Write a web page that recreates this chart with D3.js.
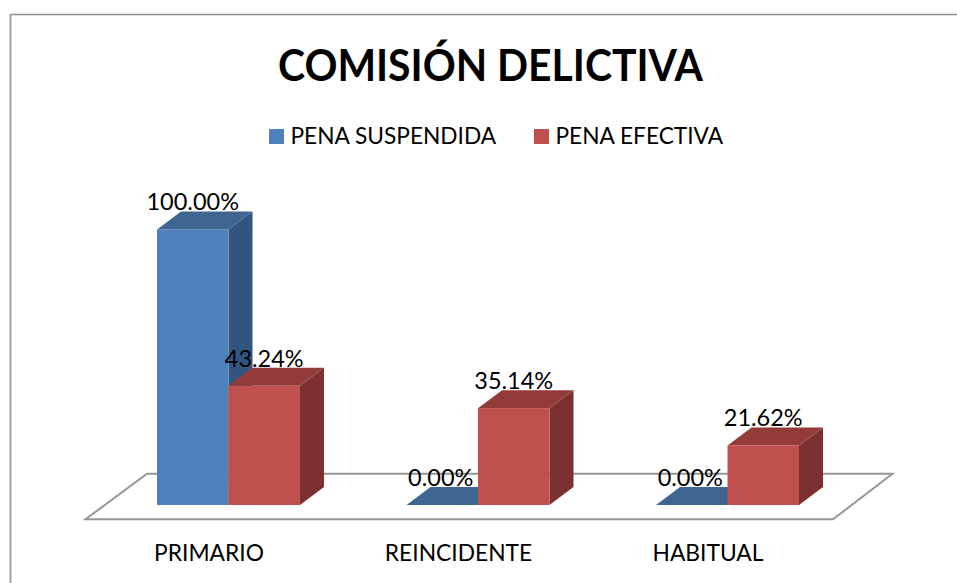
<!DOCTYPE html>
<html><head><meta charset="utf-8">
<script src="https://cdn.jsdelivr.net/npm/d3@7/dist/d3.min.js"></script>
<style>html,body{margin:0;padding:0;background:#fff}svg{display:block}text{font-family:Lato,"Open Sans",sans-serif;fill:#000}</style>
</head><body><svg id="c" width="957" height="583"></svg>
<script>
const title = "COMISIÓN DELICTIVA";
const categories = ["PRIMARIO","REINCIDENTE","HABITUAL"];
const seriesNames = ["PENA SUSPENDIDA","PENA EFECTIVA"];
const penaSuspendida = [100, 0, 0];
const penaEfectiva = [43.24, 35.14, 21.62];
const series = [penaSuspendida, penaEfectiva];
const front = ["#4f81bd","#c0504d"], top_ = ["#3f6591","#933b39"], side = ["#325580","#7c302f"];
const svg = d3.select("#c");
const y = d3.scaleLinear().domain([0,100]).range([505,229.4]);
const x0 = d3.scaleBand().domain(categories).range([107.1,848.9]).paddingInner(0.427).paddingOuter(0.2);
const x1 = d3.scaleBand().domain([0,1]).range([0,x0.bandwidth()]);
const dx=24, dy=-18;
const poly = p => p.map(d=>d.join(",")).join(" ");

// frame
svg.append("path").attr("d","M957 14.5H10.5").attr("stroke","#8c8c8c").attr("stroke-width",1.3).attr("fill","none");
svg.append("path").attr("d","M10.5 14V583").attr("stroke","#a0a0a0").attr("stroke-width",2).attr("fill","none");

// floor
svg.append("polygon").attr("points",poly([[85.5,519.3],[147,473.8],[892.5,473.8],[833,519.3]]))
  .attr("fill","#fff").attr("stroke","#969696").attr("stroke-width",2);

// bars
const marks=[];
categories.forEach((c,i)=>series.forEach((s,j)=>marks.push({c,j,v:s[i]})));
const g = svg.append("g").selectAll("g").data(marks).join("g");
g.each(function(d){
  const el=d3.select(this), l=x0(d.c)+x1(d.j), r=l+x1.bandwidth(), t=y(d.v), b=y(0);
  if(d.v>0) el.append("polygon").attr("points",poly([[r,t],[r+dx,t+dy],[r+dx,b+dy],[r,b]])).attr("fill",side[d.j]);
  el.append("polygon").attr("points",poly([[l,t],[l+dx,t+dy],[r+dx,t+dy],[r,t]])).attr("fill",top_[d.j]);
  if(d.v>0) el.append("rect").attr("x",l).attr("y",t).attr("width",r-l).attr("height",b-t).attr("fill",front[d.j]);
});
// value labels
svg.append("g").selectAll("text").data(marks).join("text")
  .attr("x",d=>x0(d.c)+x1(d.j)+x1.bandwidth()/2+(d.v===0?-1.5:0))
  .attr("y",d=>y(d.v)-19)
  .attr("text-anchor","middle").attr("font-size",23.5)
  .text(d=>d.v.toFixed(2)+"%");
// category labels
svg.append("g").selectAll("text").data(categories).join("text")
  .attr("x",d=>x0(d)+x0.bandwidth()/2-19.5).attr("y",561)
  .attr("text-anchor","middle").attr("font-size",22.8).text(d=>d);
// title
svg.append("text").attr("x",490.5).attr("y",81).attr("text-anchor","middle")
  .attr("font-size",43).attr("font-weight",700)
  .attr("textLength",425).attr("lengthAdjust","spacingAndGlyphs").text(title);
// legend
const lx=[269,534];
const leg=svg.append("g").selectAll("g").data(seriesNames).join("g");
leg.append("rect").attr("x",(d,i)=>lx[i]).attr("y",129).attr("width",15).attr("height",15).attr("fill",(d,i)=>front[i]);
leg.append("text").attr("x",(d,i)=>lx[i]+21.5).attr("y",144).attr("font-size",22.7).text(d=>d);
</script></body></html>
